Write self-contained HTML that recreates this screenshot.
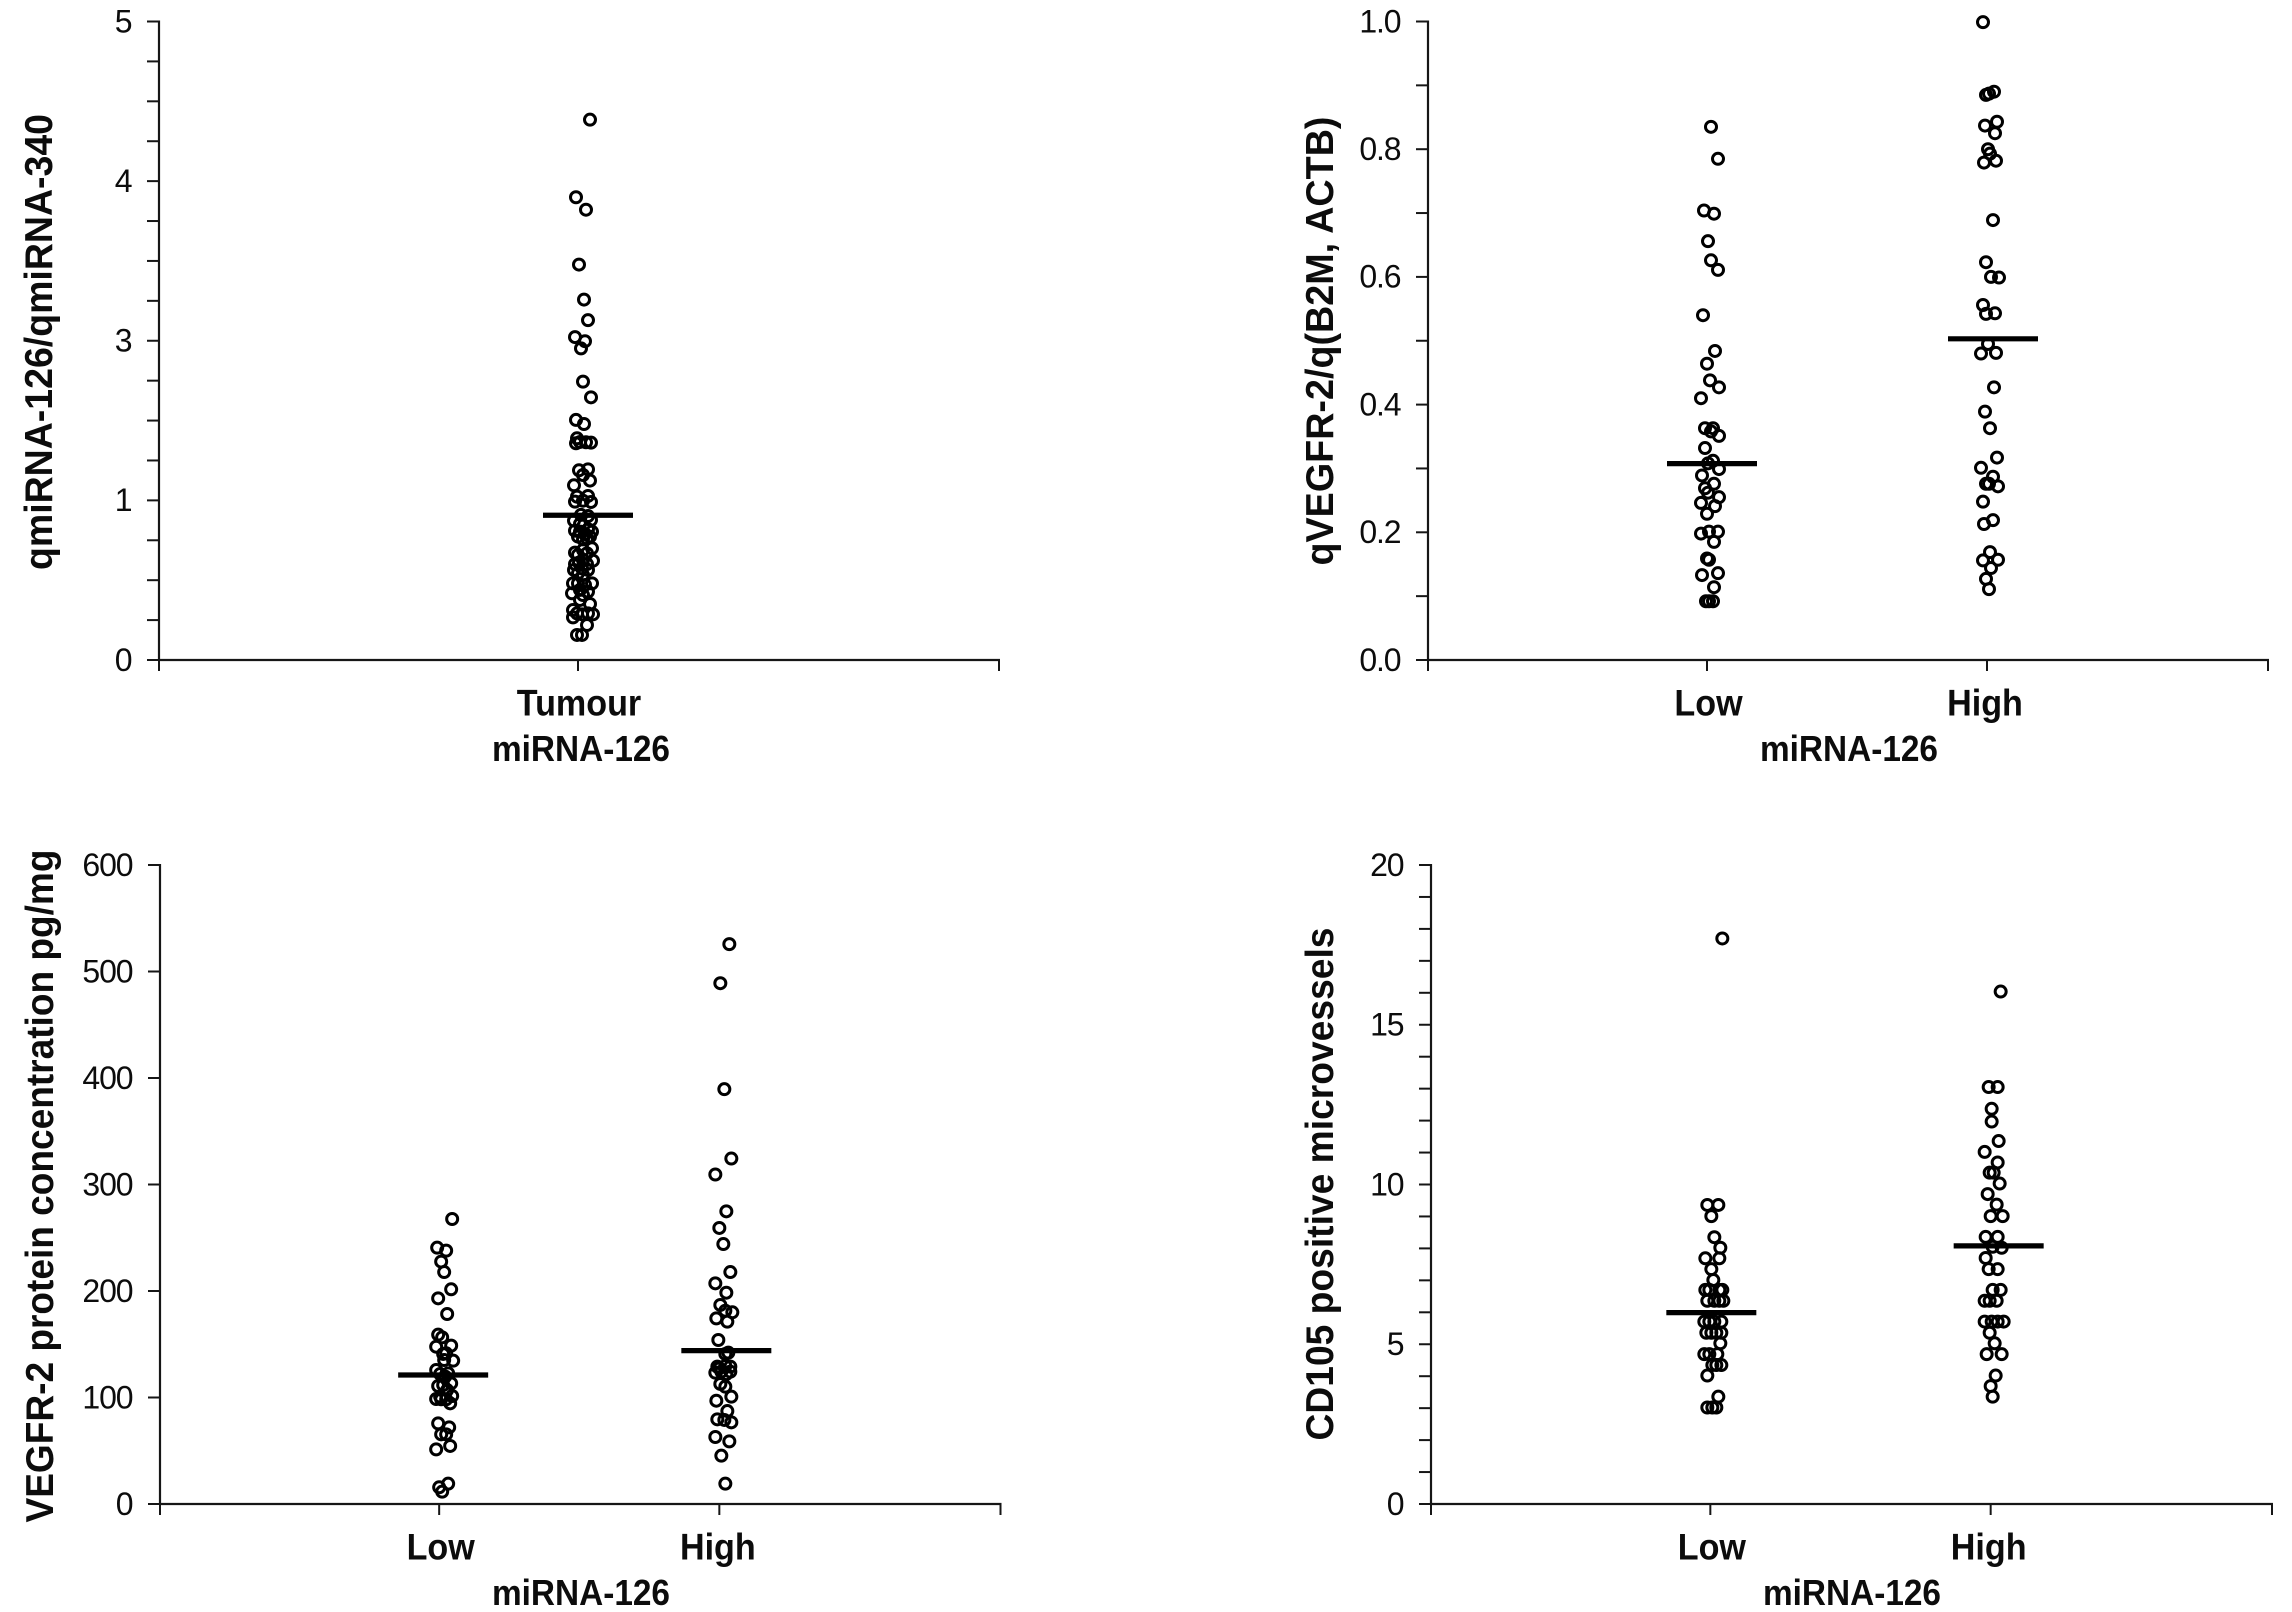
<!DOCTYPE html>
<html lang="en">
<head>
<meta charset="utf-8">
<title>miRNA-126 scatter panels</title>
<style>
html,body{margin:0;padding:0;background:#fff;width:2292px;height:1612px;overflow:hidden}
svg{display:block}
text{font-family:"Liberation Sans",Arial,sans-serif;fill:#0c0c0c}
.tick{font-size:32px;text-anchor:end;letter-spacing:-1.1px}
.cat{font-size:37.5px;font-weight:700;text-anchor:middle}
.axis-title{font-size:36.5px;font-weight:700;text-anchor:middle}
.y-title{font-size:39px;font-weight:700;text-anchor:middle}
</style>
</head>
<body>
<svg id="figure" xmlns="http://www.w3.org/2000/svg" width="2292" height="1612" viewBox="0 0 2292 1612">
  <rect width="2292" height="1612" fill="#fff"/>

  <g id="p1"></g>
  <g id="p2"></g>
  <g id="p3"></g>
  <g id="p4"></g>

  <text class="y-title" transform="translate(52,342) rotate(-90)" textLength="456" lengthAdjust="spacingAndGlyphs">qmiRNA-126/qmiRNA-340</text>
  <text class="y-title" transform="translate(1333,341) rotate(-90)" textLength="449" lengthAdjust="spacingAndGlyphs">qVEGFR-2/q(B2M, ACTB)</text>
  <text class="y-title" transform="translate(53,1186) rotate(-90)" textLength="673" lengthAdjust="spacingAndGlyphs">VEGFR-2 protein concentration pg/mg</text>
  <text class="y-title" transform="translate(1333,1184) rotate(-90)" textLength="513" lengthAdjust="spacingAndGlyphs">CD105 positive microvessels</text>

  <text class="axis-title" x="581" y="761" textLength="178" lengthAdjust="spacingAndGlyphs">miRNA-126</text>
  <text class="axis-title" x="1849" y="761" textLength="178" lengthAdjust="spacingAndGlyphs">miRNA-126</text>
  <text class="axis-title" x="581" y="1605" textLength="178" lengthAdjust="spacingAndGlyphs">miRNA-126</text>
  <text class="axis-title" x="1852" y="1605" textLength="178" lengthAdjust="spacingAndGlyphs">miRNA-126</text>
</svg>

<script>
// Panel 1: tumour
const p1Categories = ['Tumour'];
const p1YTickLabels = ['0', '1', '3', '4', '5'];
const p1TumourValues = [0.157,0.157,0.219,0.267,0.286,0.286,0.292,0.292,0.313,0.351,0.376,0.407,0.418,0.428,0.439,0.47,0.48,0.48,0.48,0.533,0.543,0.564,0.564,0.574,0.601,0.601,0.61,0.622,0.627,0.658,0.668,0.673,0.689,0.7,0.756,0.762,0.773,0.773,0.789,0.804,0.804,0.81,0.819,0.852,0.873,0.877,0.902,0.909,0.99,0.992,0.998,1.047,1.055,1.189,1.248,1.318,1.377,1.389,1.715,1.723,1.728,1.732,1.778,1.957,2.008,2.291,2.488,2.904,2.994,3.023,3.129,3.258,3.477,3.821,3.899,4.385];
const p1TumourJitter = [-1,4,9,-5,4,15,10,-1,-5,12,2,5,-6,10,2,7,-5,14,0,5,0,-4,10,4,-3,9,1,15,5,0,9,-3,5,14,5,9,0,12,7,2,14,-3,10,2,-4,13,10,3,13,-3,5,-1,10,-4,12,5,1,10,-2,13,8,2,-1,6,-2,13,5,3,7,-3,10,6,1,8,-2,12];
const p1Means = [0.907];
const p1MeanJitter = [9];

// Panel 2: VEGFR-2 mRNA
const p2Categories = ['Low', 'High'];
const p2YTickLabels = ['0.0', '0.2', '0.4', '0.6', '0.8', '1.0'];
const p2LowValues = [0.835,0.785,0.704,0.699,0.656,0.626,0.611,0.54,0.484,0.464,0.438,0.427,0.41,0.363,0.363,0.358,0.351,0.332,0.312,0.308,0.299,0.289,0.276,0.269,0.262,0.255,0.246,0.241,0.229,0.198,0.201,0.201,0.185,0.159,0.157,0.133,0.136,0.114,0.092,0.092,0.092];
const p2LowJitter = [4,11,-3,7,1,4,11,-4,8,0,3,12,-6,-2,6,4,12,-2,6,1,12,-5,7,-2,1,12,-6,8,0,-6,2,11,7,0,2,-5,11,7,-1,2,6];
const p2HighValues = [0.999,0.89,0.887,0.885,0.843,0.837,0.825,0.8,0.793,0.779,0.782,0.689,0.623,0.599,0.6,0.556,0.542,0.543,0.495,0.48,0.481,0.427,0.389,0.363,0.317,0.301,0.287,0.276,0.276,0.272,0.248,0.219,0.213,0.169,0.156,0.157,0.144,0.127,0.111];
const p2HighJitter = [-4,7,2,-1,10,-2,8,1,3,-3,9,6,-1,12,4,-4,-1,8,1,-6,9,7,-2,3,10,-6,6,-1,2,11,-4,6,-3,3,-4,11,4,-1,2];
const p2Means = [0.3076, 0.503];
const p2MeanJitter = [4, 5];

// Panel 3: VEGFR-2 protein
const p3Categories = ['Low', 'High'];
const p3YTickLabels = ['0', '100', '200', '300', '400', '500', '600'];
const p3LowValues = [267.6,240.7,237.9,227.6,217.8,201.6,193.1,178.4,159,156.5,147.7,148.7,140.9,141.5,134.6,135.2,125.8,122.7,122.1,119.6,113.3,110.8,111.7,107,101.4,98.6,98.3,98.3,94.5,100.8,75.7,72,65.4,65.4,54.5,51.3,19.1,15.7,11.6];
const p3LowJitter = [13,-2,7,2,5,12,-1,8,-1,3,-3,12,4,7,14,5,-3,9,1,6,12,-1,4,8,13,-3,2,7,11,1,-1,10,2,7,11,-3,9,0,3];
const p3HighValues = [525.7,489,389.5,324.4,309.4,274.8,259.2,244.1,217.8,207.2,198.4,186.9,181.5,180,174.3,171.2,154,142.1,140.9,129,129.6,123.3,124.3,124.3,122,127.4,129,112.7,110.2,97,100.8,87.3,79.5,78.9,76.7,62.9,58.8,45.4,19.1];
const p3HighJitter = [10,1,5,12,-4,7,0,4,11,-4,7,1,6,13,-3,8,-1,9,6,-2,6,-4,2,11,7,0,11,1,6,-3,12,8,-2,5,12,-4,10,2,6];
const p3Means = [121.1, 144];
const p3MeanJitter = [3, 6];

// Panel 4: CD105 microvessels
const p4Categories = ['Low', 'High'];
const p4YTickLabels = ['0', '5', '10', '15', '20'];
const p4LowValues = [17.7,9.36,9.36,9.01,8.35,8.02,7.69,7.69,7.35,7.01,6.7,6.7,6.7,6.7,6.36,6.36,6.36,6.36,5.71,5.71,5.71,5.71,5.36,5.36,5.36,5.36,5.03,4.69,4.69,4.69,4.35,4.35,4.35,4.02,3.36,3.02,3.02,3.02];
const p4LowJitter = [12,-3,8,1,4,10,-5,9,1,3,-5,-1,9,12,-3,4,9,13,-6,-1,4,11,-4,1,6,11,10,-6,-1,7,2,11,6,-3,8,-3,2,6];
const p4HighValues = [16.04,13.05,13.05,12.37,11.97,11.36,11.02,10.69,10.37,10.37,10.03,9.7,9.37,9.01,9.01,8.36,8.36,8.05,8.02,7.7,7.35,7.35,6.7,6.7,6.36,6.36,6.36,5.71,5.71,5.71,5.71,5.36,5.03,4.69,4.69,4.02,3.69,3.36];
const p4HighJitter = [10,-2,7,1,1,8,-6,7,-1,3,9,-3,6,0,12,-5,7,2,11,-5,-2,7,2,10,-6,-1,6,-6,1,7,13,-1,4,-4,11,5,0,2];
const p4Means = [5.99, 8.08];
const p4MeanJitter = [0, 7];

const SVG_NS = 'http://www.w3.org/2000/svg';

function makeEl(parent, tag, attrs) {
  const el = document.createElementNS(SVG_NS, tag);
  for (const k in attrs) el.setAttribute(k, attrs[k]);
  parent.appendChild(el);
  return el;
}

function drawPanel(opts) {
  const g = document.getElementById(opts.id);
  const xLeft = opts.left, xRight = opts.right, yTop = opts.top, yBase = opts.bottom;
  const majors = opts.yLabels.map(Number);
  const xDomain = opts.categories.length + 1;
  const step = (xRight - xLeft) / xDomain;

  // category axis: c is the category position, with 0 and n+1 at the axis ends
  const xScale = c => xLeft + (c / xDomain) * (xRight - xLeft);
  const xMark = c => xScale(c) - 1;

  // value axis: evenly spaced printed ticks, linear between neighbours
  const slot = (yBase - yTop) / (majors.length - 1);
  const yScale = v => {
    let i = 0;
    while (i < majors.length - 2 && v > majors[i + 1]) i++;
    const t = (v - majors[i]) / (majors[i + 1] - majors[i]);
    return yBase - (i + t) * slot;
  };

  // axes
  const yLine = makeEl(g, 'line', {x1: xLeft, x2: xLeft, y1: yTop - 1, y2: yBase, stroke: '#161616', 'stroke-width': 2.2});
  
  
  const xLine = makeEl(g, 'line', {x1: xLeft - 1, x2: xRight + 1, y1: yBase, y2: yBase, stroke: '#161616', 'stroke-width': 2.2});
  
  

  // y ticks
  for (let i = 0; i <= (majors.length - 1) * opts.minorPerMajor; i++) {
    const y = yBase - i * slot / opts.minorPerMajor;
    const tick = makeEl(g, 'line', {x1: xLeft - 12, x2: xLeft, y1: y, y2: y, stroke: '#161616', 'stroke-width': 2});
    
    
  }
  opts.yLabels.forEach((label, i) => {
    const t = makeEl(g, 'text', {class: 'tick', x: xLeft - 27.5, y: yScale(majors[i]) + 10.8});
    
    
    t.textContent = label;
  });

  // x ticks
  for (let c = 0; c <= xDomain; c++) {
    const interior = c > 0 && c < xDomain;
    const px = interior ? xMark(c) : xScale(c);
    const tick = makeEl(g, 'line', {x1: px, x2: px, y1: yBase, y2: yBase + 11, stroke: '#161616', 'stroke-width': 2});
    
    
  }
  opts.categories.forEach((name, i) => {
    const lx = xScale(i + 1) + opts.labelShift[i];
    const ly = yBase + 55.5;
    const t = makeEl(g, 'text', {class: 'cat', transform: 'translate(' + lx + ',' + ly + ') scale(0.91,1)'});
    
    
    t.textContent = name;
  });

  // data points (jitter is in 1/step fractions of a category)
  opts.series.forEach((s, i) => {
    s.values.forEach((v, k) => {
      const pt = makeEl(g, 'circle', {cx: xMark(i + 1 + s.jitter[k] / step), cy: yScale(v), r: 5.5, fill: 'none', stroke: '#000', 'stroke-width': 3});
      
      
    });
  });

  // mean bars
  opts.means.forEach((m, i) => {
    const cx = xScale(i + 1 + opts.meanJitter[i] / step);
    const bar = makeEl(g, 'line', {x1: cx - 45, x2: cx + 45, y1: yScale(m), y2: yScale(m), stroke: '#000', 'stroke-width': 5.2});
    
    
  });
}

drawPanel({id: 'p1', left: 159, right: 999, top: 21.5, bottom: 660, minorPerMajor: 4, labelShift: [0],
  categories: p1Categories, yLabels: p1YTickLabels,
  series: [{values: p1TumourValues, jitter: p1TumourJitter}],
  means: p1Means, meanJitter: p1MeanJitter});

drawPanel({id: 'p2', left: 1428, right: 2268, top: 21.5, bottom: 660, minorPerMajor: 2, labelShift: [0.5, -3],
  categories: p2Categories, yLabels: p2YTickLabels,
  series: [{values: p2LowValues, jitter: p2LowJitter}, {values: p2HighValues, jitter: p2HighJitter}],
  means: p2Means, meanJitter: p2MeanJitter});

drawPanel({id: 'p3', left: 160, right: 1000.5, top: 865, bottom: 1504, minorPerMajor: 1, labelShift: [0.5, -2.5],
  categories: p3Categories, yLabels: p3YTickLabels,
  series: [{values: p3LowValues, jitter: p3LowJitter}, {values: p3HighValues, jitter: p3HighJitter}],
  means: p3Means, meanJitter: p3MeanJitter});

drawPanel({id: 'p4', left: 1431, right: 2272, top: 865, bottom: 1504, minorPerMajor: 5, labelShift: [0.5, -3],
  categories: p4Categories, yLabels: p4YTickLabels,
  series: [{values: p4LowValues, jitter: p4LowJitter}, {values: p4HighValues, jitter: p4HighJitter}],
  means: p4Means, meanJitter: p4MeanJitter});
</script>
</body>
</html>
